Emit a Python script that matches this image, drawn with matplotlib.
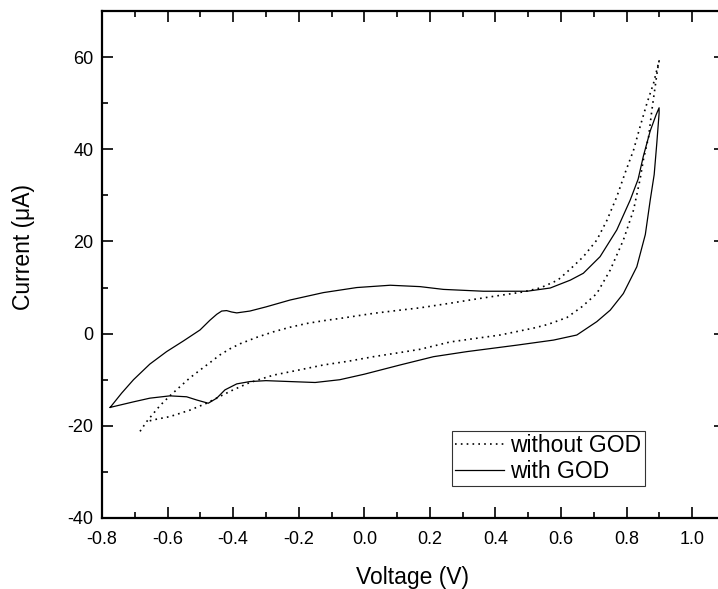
import numpy as np
import matplotlib
matplotlib.use('Agg')
import matplotlib.pyplot as plt
from matplotlib.ticker import MultipleLocator

plt.rcParams['font.family'] = ['Liberation Sans', 'DejaVu Sans']
plt.rcParams['axes.unicode_minus'] = False

# without GOD (dotted): anodic sweep to 0.9 V, then back
v_without = [-0.684, -0.664, -0.643, -0.623, -0.593, -0.562, -0.532, -0.501, -0.471, -0.44,
             -0.41, -0.379, -0.328, -0.277, -0.226, -0.176, -0.125, -0.074, 0.028, 0.109,
             0.17, 0.262, 0.34, 0.414, 0.48, 0.536, 0.59, 0.628, 0.668, 0.709,
             0.74, 0.77, 0.796, 0.821, 0.841, 0.862, 0.882, 0.899,
             0.894, 0.887, 0.877, 0.867, 0.851, 0.841, 0.821, 0.79, 0.75, 0.709,
             0.663, 0.618, 0.56, 0.516, 0.414, 0.262, 0.17, 0.109, 0.028, -0.05,
             -0.125, -0.2, -0.277, -0.349, -0.4, -0.44, -0.481, -0.532, -0.593, -0.643,
             -0.664]
i_without = [-21.2, -19.1, -17.3, -15.6, -13.5, -11.5, -9.6, -7.9, -6.3, -4.6,
             -3.3, -2.2, -0.8, 0.4, 1.4, 2.2, 2.8, 3.3, 4.4, 5.1,
             5.6, 6.6, 7.5, 8.3, 9.0, 9.9, 11.6, 14.0, 16.7, 20.3,
             24.6, 29.7, 35.0, 39.8, 44.9, 50.0, 54.3, 59.2,
             57.2, 53.6, 48.5, 42.7, 37.7, 33.5, 26.8, 20.3, 13.8, 8.7,
             5.8, 3.5, 2.0, 1.2, -0.3, -1.8, -3.4, -4.1, -5.0, -6.0,
             -6.8, -7.9, -9.0, -10.6, -12.2, -13.6, -15.1, -16.6, -18.0, -18.7,
             -19.1]

# with GOD (solid)
v_with = [-0.775, -0.74, -0.704, -0.654, -0.603, -0.552, -0.501, -0.471, -0.45, -0.435,
          -0.42, -0.405, -0.389, -0.349, -0.3, -0.226, -0.125, -0.023, 0.079, 0.17,
          0.241, 0.363, 0.496, 0.567, 0.628, 0.668, 0.719, 0.77, 0.811, 0.835,
          0.851, 0.872, 0.89, 0.899,
          0.899, 0.892, 0.884, 0.872, 0.857, 0.831, 0.79, 0.75, 0.709, 0.648,
          0.577, 0.465, 0.313, 0.211, 0.109, 0.0, -0.075, -0.15, -0.226, -0.3,
          -0.349, -0.389, -0.425, -0.45, -0.476, -0.511, -0.542, -0.593, -0.654, -0.704,
          -0.775]
i_with = [-16.0, -12.9, -10.0, -6.6, -3.9, -1.6, 0.8, 2.9, 4.2, 4.9,
          5.0, 4.7, 4.5, 4.9, 5.8, 7.3, 8.9, 10.0, 10.5, 10.2,
          9.6, 9.2, 9.2, 9.9, 11.6, 13.1, 16.7, 22.5, 29.0, 33.5,
          38.5, 44.0, 47.5, 49.0,
          47.8, 41.3, 34.5, 29.0, 21.5, 14.5, 8.7, 5.1, 2.6, -0.3,
          -1.4, -2.5, -3.9, -5.0, -6.8, -8.8, -10.0, -10.6, -10.4, -10.2,
          -10.4, -10.9, -12.2, -14.0, -15.1, -14.4, -13.7, -13.5, -14.0, -14.8,
          -16.0]

x_ticks = [-0.8, -0.6, -0.4, -0.2, 0.0, 0.2, 0.4, 0.6, 0.8, 1.0]
y_ticks = [-40, -20, 0, 20, 40, 60]

fig = plt.figure(figsize=(7.18, 5.89), dpi=100)
ax = fig.add_axes([102 / 718, 71 / 589, 623 / 718, 507 / 589])

ax.plot(v_without, i_without, color='black', lw=1.2, linestyle=(0, (1, 2.5)),
        label='without GOD')
ax.plot(v_with, i_with, color='black', lw=0.9, label='with GOD')

ax.set_xlim(-0.8, 1.1)
ax.set_ylim(-40, 70)
ax.set_xticks(x_ticks)
ax.set_xticklabels([f'{t:.1f}' for t in x_ticks])
ax.set_yticks(y_ticks)
ax.xaxis.set_minor_locator(MultipleLocator(0.1))
ax.yaxis.set_minor_locator(MultipleLocator(10))
ax.tick_params(which='both', direction='in', top=True, right=True, width=1.2,
               labelsize=13)
ax.tick_params(axis='x', pad=9)
ax.tick_params(axis='y', pad=6)
ax.tick_params(which='major', length=8)
ax.tick_params(which='minor', length=4)
for s in ax.spines.values():
    s.set_linewidth(1.6)

ax.set_xlabel('Voltage (V)', fontsize=16.5)
ax.set_ylabel('Current (\u03bcA)', fontsize=16.5)
ax.xaxis.set_label_coords(0.498, -0.095)
ax.yaxis.set_label_coords(-0.108, 0.534)

leg = ax.legend(loc='upper left', bbox_to_anchor=(0.5618, 0.1716), fontsize=16.5,
                frameon=True, fancybox=False, edgecolor='black', handlelength=2.1,
                handletextpad=0.3, borderpad=0.15, labelspacing=0.1, borderaxespad=0)
leg.get_frame().set_linewidth(0.8)

plt.savefig('out.png', dpi=100)
